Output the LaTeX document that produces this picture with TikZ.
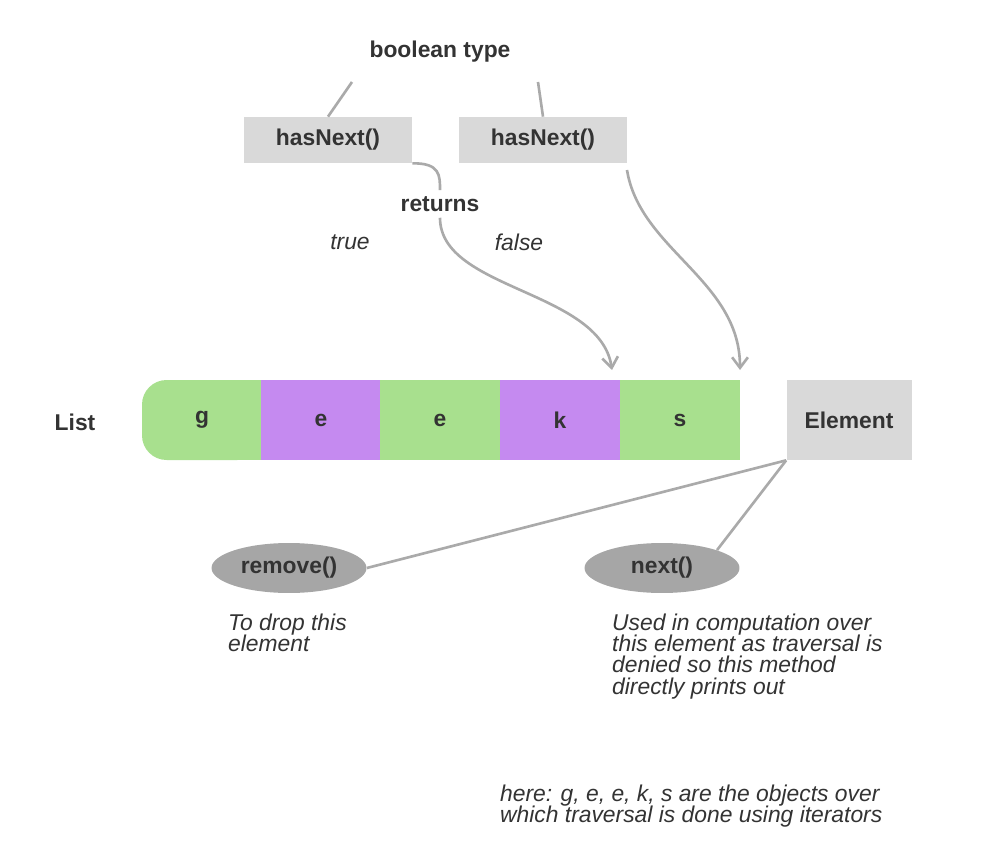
\documentclass[tikz,border=0pt]{standalone}
\usepackage{fontspec}
\setmainfont{Liberation Sans}
\usetikzlibrary{arrows.meta,positioning,shapes.geometric}
\definecolor{txt}{HTML}{333333}
\definecolor{boxgray}{HTML}{D9D9D9}
\definecolor{ovalgray}{HTML}{A6A6A6}
\definecolor{linegray}{HTML}{AAAAAA}
\definecolor{cellgreen}{HTML}{A8E08E}
\definecolor{cellpurple}{HTML}{C58AF0}
\tikzset{
  >={Straight Barb[length=6pt,width=9pt]},
  lbl/.style={text=txt, font=\fontsize{13}{15}\selectfont\bfseries},
  note/.style={text=txt, font=\fontsize{13}{15}\selectfont\itshape, align=left, anchor=north west},
  method/.style={lbl, fill=boxgray, minimum width=3.36cm, minimum height=0.92cm},
  cell/.style={lbl, minimum width=2.39cm, minimum height=1.6cm, inner sep=0pt},
  oval/.style={lbl, ellipse, fill=ovalgray, minimum width=3.1cm, minimum height=1cm},
  link/.style={draw=linegray, line width=1.5pt},
}
\begin{document}
\begin{tikzpicture}[x=0.02cm,y=-0.02cm]
  \useasboundingbox (0,0) rectangle (1000,861);
  % top part
  \node[lbl] (bool) at (440,52) {boolean type};
  \node[method] (hn1) at (328,140) {hasNext()};
  \node[method] (hn2) at (543,140) {hasNext()};
  \draw[link] (352,82) -- (hn1.north);
  \draw[link] (538,82) -- (hn2.north);
  \node[lbl] (ret) at (440,204) {returns};
  \node[text=txt, font=\fontsize{13}{15}\selectfont\itshape] (tr) at (350,242) {true};
  \node[text=txt, font=\fontsize{13}{15}\selectfont\itshape] (fa) at (519,242) {false};
  % list
  \node[lbl] (list) at (75,422) {List};
  \fill[cellgreen, rounded corners=14pt] (142,380) rectangle (262,460);
  \fill[cellgreen] (200,380) rectangle (262,460);
  \node[cell] (c1) at (202,420) {g};
  \foreach \x/\l/\c [count=\i from 2] in {321/e/cellpurple, 440/e/cellgreen, 560/k/cellpurple, 680/s/cellgreen}
    \node[cell, fill=\c] (c\i) at (\x,420) {\l};
  \node[method, minimum width=2.5cm, minimum height=1.6cm] (elem) at (849,420) {Element};
  % arrows
  \draw[link, ->] (hn1.south east) .. controls (440,163) and (440,175) .. (ret.north)
    (ret.south) .. controls (440,290) and (600,290) .. (612,370);
  \draw[link, ->] (627,170) .. controls (640,250) and (740,280) .. (740,370);
  % methods
  \node[oval] (rem) at (289,568) {remove()};
  \node[oval] (nxt) at (662,568) {next()};
  \draw[link] (elem.south west) -- (rem.east);
  \draw[link] (elem.south west) -- (nxt.north east);
  \node[note] (n1) at (222,608) {To drop this\\[-3pt]element};
  \node[note] (n2) at (606,608) {Used in computation over\\[-3pt]this element as traversal is\\[-3pt]denied so this method\\[-3pt]directly prints out};
  \node[note] (n3) at (494,779) {here: g, e, e, k, s are the objects over\\[-3pt]which traversal is done using iterators};
\end{tikzpicture}
\end{document}
